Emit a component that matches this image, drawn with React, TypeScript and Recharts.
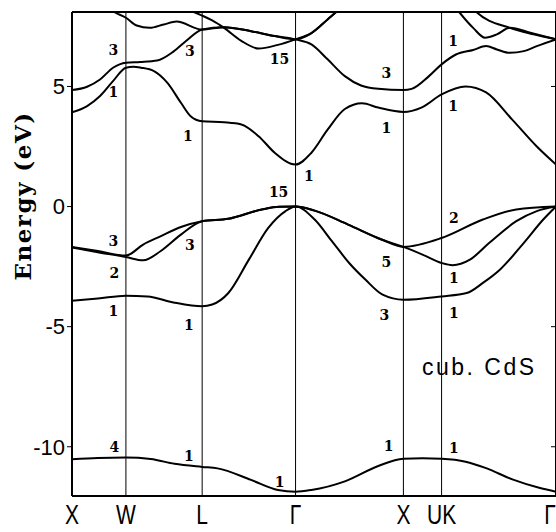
import React from 'react';
import { ComposedChart, Line, XAxis, YAxis, ReferenceLine, Scatter } from 'recharts';

// high-symmetry points along the k-path (units of 2π/a path length)
const symPoints = [0, 0.5, 1.207, 2.073, 3.073, 3.427, 4.488];
const symLabels = ['X', 'W', 'L', 'Γ', 'X', 'UK', 'Γ'];
const innerLines = [0.5, 1.207, 2.073, 3.073, 3.427];
const energyTicks = [-10, -5, 0, 5];
const energyDomain: [number, number] = [-12.05, 8.1];

type P = [number, number];
const toPts = (a: P[]) => a.map(([k, e]) => ({ k, e }));

const band1: P[] = [[0,-10.52],[0.24,-10.47],[0.5,-10.45],[0.73,-10.51],[0.95,-10.71],[1.207,-10.84],[1.35,-10.9],[1.66,-11.38],[1.91,-11.8],[2.073,-11.87],[2.22,-11.8],[2.53,-11.44],[2.84,-10.8],[3.073,-10.5],[3.25,-10.48],[3.427,-10.5],[3.65,-10.62],[3.84,-10.89],[4.09,-11.37],[4.34,-11.72],[4.488,-11.87]];
const band2: P[] = [[0,-3.92],[0.24,-3.83],[0.5,-3.71],[0.7,-3.74],[0.94,-3.99],[1.207,-4.15],[1.3,-4.08],[1.45,-3.6],[1.64,-2.21],[1.82,-0.89],[1.98,-0.19],[2.073,0],[2.25,-0.54],[2.41,-1.44],[2.57,-2.35],[2.72,-3.04],[2.88,-3.67],[3.073,-3.88],[3.427,-3.74],[3.66,-3.6],[3.81,-3.18],[3.97,-2.62],[4.19,-1.51],[4.37,-0.54],[4.488,0]];
const band3: P[] = [[0,-1.7],[0.24,-1.9],[0.5,-2.1],[0.66,-2.24],[0.82,-1.86],[1.01,-1.17],[1.207,-0.61],[1.45,-0.51],[1.76,-0.12],[1.92,-0.01],[2.073,0],[2.25,-0.17],[2.56,-0.75],[2.87,-1.37],[3.073,-1.68],[3.25,-2.0],[3.427,-2.35],[3.53,-2.44],[3.69,-2.21],[3.87,-1.51],[4.12,-0.61],[4.31,-0.19],[4.488,0]];
const band4: P[] = [[0,-1.68],[0.24,-1.85],[0.5,-2.04],[0.66,-1.58],[0.82,-1.24],[1.01,-0.85],[1.207,-0.61],[1.45,-0.51],[1.76,-0.12],[1.92,-0.01],[2.073,0],[2.25,-0.17],[2.56,-0.75],[2.87,-1.37],[3.073,-1.68],[3.427,-1.31],[3.81,-0.54],[4.12,-0.12],[4.488,0]];
const band5: P[] = [[0,3.92],[0.14,4.18],[0.26,4.6],[0.38,5.22],[0.5,5.78],[0.57,5.82],[0.64,5.78],[0.76,5.64],[0.885,5.15],[1.01,4.32],[1.1,3.76],[1.207,3.55],[1.41,3.51],[1.57,3.42],[1.73,2.93],[1.88,2.24],[2.073,1.75],[2.22,2.24],[2.37,3.2],[2.53,4.06],[2.69,4.3],[2.84,4.12],[3.073,3.94],[3.24,4.12],[3.427,4.67],[3.65,5.0],[3.84,4.75],[4.08,3.63],[4.31,2.5],[4.488,1.75]];
const band6: P[] = [[0,4.85],[0.14,4.99],[0.26,5.29],[0.38,5.78],[0.5,5.99],[0.63,6.02],[0.79,6.08],[0.94,6.45],[1.06,6.9],[1.207,7.37],[1.41,7.47],[1.66,7.3],[1.88,7.1],[2.073,6.96],[2.22,6.75],[2.37,6.13],[2.53,5.43],[2.68,5.04],[2.84,4.9],[3.073,4.85],[3.15,4.9],[3.31,5.43],[3.427,5.92],[3.56,6.33],[3.72,6.52],[3.84,6.68],[3.94,6.54],[4.06,6.4],[4.19,6.47],[4.31,6.68],[4.488,6.96]];
const band7: P[] = [[0,9.4],[0.2,8.75],[0.39,8.1],[0.5,7.86],[0.6,7.54],[0.72,7.44],[0.85,7.58],[0.97,7.7],[1.207,7.37],[1.41,7.47],[1.66,7.3],[1.88,7.1],[2.073,6.96],[2.22,7.22],[2.37,7.79],[2.45,8.1],[2.7,9.0],[3.073,9.6],[3.427,9.1],[3.59,8.1],[3.72,7.44],[3.83,7.03],[3.94,7.17],[4.06,7.44],[4.25,7.24],[4.488,6.96]];
const band8: P[] = [[0,10.2],[0.3,8.9],[0.5,8.3],[0.7,8.5],[0.95,8.4],[1.1,8.15],[1.207,7.95],[1.3,7.75],[1.41,7.44],[1.57,6.9],[1.73,6.58],[1.9,6.72],[2.073,6.96],[2.22,7.22],[2.37,7.79],[2.45,8.1],[2.7,9.0],[3.073,9.6],[3.427,9.5],[3.62,8.8],[3.75,8.1],[4.06,7.44],[4.28,7.17],[4.488,6.96]];
const bands = [band1, band2, band3, band4, band5, band6, band7, band8];

// symmetry labels of states
const stateLabels = [
  { k: 0.383, e: 6.5, t: '3' }, { k: 0.383, e: 4.79, t: '1' }, { k: 1.093, e: 6.46, t: '3' },
  { k: 1.925, e: 6.125, t: '15' }, { k: 2.916, e: 5.54, t: '3' }, { k: 3.533, e: 6.875, t: '1' },
  { k: 3.533, e: 4.17, t: '1' }, { k: 2.916, e: 3.29, t: '1' }, { k: 1.075, e: 2.92, t: '1' },
  { k: 2.196, e: 1.29, t: '1' }, { k: 1.916, e: 0.625, t: '15' }, { k: 3.542, e: -0.46, t: '2' },
  { k: 0.383, e: -1.42, t: '3' }, { k: 1.093, e: -1.58, t: '3' }, { k: 0.393, e: -2.75, t: '2' },
  { k: 2.916, e: -2.29, t: '5' }, { k: 3.542, e: -2.96, t: '1' }, { k: 0.383, e: -4.33, t: '1' },
  { k: 1.084, e: -4.92, t: '1' }, { k: 2.897, e: -4.5, t: '3' }, { k: 3.542, e: -4.42, t: '1' },
  { k: 0.393, e: -10.0, t: '4' }, { k: 1.084, e: -10.37, t: '1' }, { k: 1.925, e: -11.46, t: '1' },
  { k: 2.935, e: -9.96, t: '1' }, { k: 3.542, e: -10.04, t: '1' },
];
const titleNote = [{ k: 3.776, e: -6.67, t: 'cub. CdS' }];

const StateText = (props: any) => (
  <text x={props.cx} y={props.cy} textAnchor="middle" dominantBaseline="central"
    fontFamily="'DejaVu Serif', serif" fontWeight="bold" fontSize={14} fill="#000">
    {props.payload.t}
  </text>
);
const NoteText = (props: any) => (
  <text x={props.cx} y={props.cy} textAnchor="middle" dominantBaseline="central"
    fontFamily="'Liberation Sans', sans-serif" fontSize={23} letterSpacing={2.5} fill="#000">
    {props.payload.t}
  </text>
);

const KTick = (props: any) => {
  const idx = symPoints.indexOf(props.payload.value);
  const last = idx === symPoints.length - 1;
  return (
    <g transform={`translate(${props.x + (last ? -6 : 0)},${props.y})`}>
      <text transform="scale(0.75,1)" textAnchor="middle" dy="0.71em" fill="#000" fontSize={28}
        fontFamily="'Liberation Sans', sans-serif">
        {symLabels[idx]}
      </text>
    </g>
  );
};

export default function App() {
  return (
    <div style={{ position: 'absolute', left: 0, top: 0, background: '#fff' }}>
      <ComposedChart width={556} height={532} margin={{ top: 12, right: 0, bottom: 0, left: 0 }}>
        <XAxis dataKey="k" type="number" domain={[0, 4.488]} allowDataOverflow ticks={symPoints}
          interval={0} height={36} tickLine={false} tickMargin={2}
          axisLine={{ stroke: '#000', strokeWidth: 2 }} tick={<KTick />} />
        <YAxis yAxisId={0} type="number" domain={energyDomain} allowDataOverflow ticks={energyTicks}
          width={72} tickSize={5} tickLine={{ stroke: '#000' }}
          axisLine={{ stroke: '#000', strokeWidth: 2 }}
          tick={{ fill: '#000', fontSize: 22, fontFamily: "'Liberation Sans', sans-serif" }}
          label={{
            content: () => (
              <text transform="translate(22,196) rotate(-90)" textAnchor="middle" dominantBaseline="central"
                fontFamily="'DejaVu Serif', serif" fontWeight="bold" fontSize={23} letterSpacing={1.5} fill="#000">
                Energy (eV)
              </text>
            ),
          }} />
        <YAxis yAxisId="r" orientation="right" type="number" domain={energyDomain} allowDataOverflow
          ticks={energyTicks} width={4} mirror tickSize={5} tickFormatter={() => ''}
          tickLine={{ stroke: '#000' }} axisLine={{ stroke: '#000', strokeWidth: 2 }} />
        <ReferenceLine y={8.1} stroke="#000" strokeWidth={2} />
        {innerLines.map((k, i) => (
          <ReferenceLine key={'v' + i} x={k} stroke="#000" strokeWidth={1} />
        ))}
        {bands.map((b, i) => (
          <Line key={'b' + i} data={toPts(b)} dataKey="e" type="monotone" stroke="#000" strokeWidth={2}
            dot={false} activeDot={false} isAnimationActive={false} />
        ))}
        <Scatter data={stateLabels} dataKey="e" shape={StateText} isAnimationActive={false} />
        <Scatter data={titleNote} dataKey="e" shape={NoteText} isAnimationActive={false} />
      </ComposedChart>
    </div>
  );
}
